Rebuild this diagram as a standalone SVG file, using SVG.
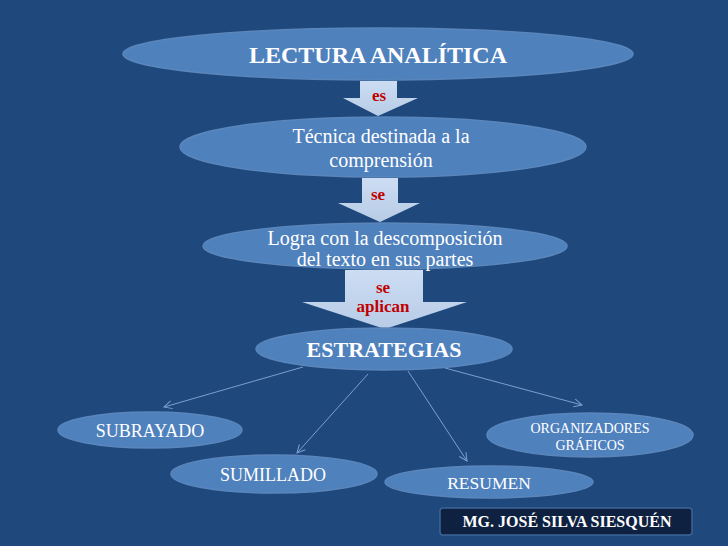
<svg xmlns="http://www.w3.org/2000/svg" width="728" height="546" viewBox="0 0 728 546">
<defs>
<style>
.node{fill:#4F81BD;stroke:#5A86BC;stroke-width:1.5}
.t{font-family:'Liberation Serif','DejaVu Serif',serif;fill:#FFFFFF;text-anchor:middle}
.b{font-weight:bold}
.lbl{font-family:'Liberation Serif','DejaVu Serif',serif;fill:#C00000;font-weight:bold;text-anchor:middle;font-size:17px}
.con{stroke:#7A9FD0;stroke-width:1;fill:none}
</style>
<marker id="ah" viewBox="0 0 10 10" refX="9" refY="5" markerWidth="10" markerHeight="10" orient="auto" markerUnits="userSpaceOnUse">
<path d="M1,1 L9,5 L1,9" fill="none" stroke="#7A9FD0" stroke-width="1"/>
</marker>
<linearGradient id="ag" x1="0" y1="0" x2="0" y2="1">
<stop offset="0" stop-color="#CCDDF3"/>
<stop offset="1" stop-color="#B8CCE6"/>
</linearGradient>
</defs>
<rect x="0" y="0" width="728" height="546" fill="#1F497D"/>

<g id="arrows">
<path fill="url(#ag)" d="M360,81 L397,81 L397,98 L418,98 L378,116 L343,98 L360,98 Z"/>
<path fill="url(#ag)" d="M362,178 L398,178 L398,203 L420,203 L380,222 L338,203 L362,203 Z"/>
<path fill="url(#ag)" d="M345,270 L423,270 L423,302 L467,302 L385,329 L302,302 L345,302 Z"/>
</g>

<g id="connectors">
<line class="con" x1="303" y1="367" x2="164" y2="407" marker-end="url(#ah)"/>
<line class="con" x1="368" y1="374" x2="297" y2="453" marker-end="url(#ah)"/>
<line class="con" x1="408" y1="371" x2="467" y2="461" marker-end="url(#ah)"/>
<line class="con" x1="445" y1="368" x2="582" y2="405" marker-end="url(#ah)"/>
</g>

<g id="n-lectura">
<ellipse class="node" cx="378" cy="54" rx="255" ry="26"/>
<text class="t b" x="378" y="63" font-size="24">LECTURA ANALÍTICA</text>
</g>
<g id="l-es"><text class="lbl" x="379" y="101">es</text></g>

<g id="n-tecnica">
<ellipse class="node" cx="383" cy="147" rx="203" ry="30"/>
<text class="t" x="381" y="143" font-size="20">Técnica destinada a la</text>
<text class="t" x="381" y="167" font-size="20">comprensión</text>
</g>
<g id="l-se"><text class="lbl" x="378" y="200">se</text></g>

<g id="n-logra">
<ellipse class="node" cx="385" cy="246" rx="182" ry="23"/>
<text class="t" x="385" y="245" font-size="20">Logra con la descomposición</text>
<text class="t" x="385" y="266" font-size="20">del texto en sus partes</text>
</g>
<g id="l-aplican">
<text class="lbl" x="383" y="293">se</text>
<text class="lbl" x="383" y="312">aplican</text>
</g>

<g id="n-estrategias">
<ellipse class="node" cx="384" cy="349" rx="128" ry="21"/>
<text class="t b" x="384" y="357" font-size="22">ESTRATEGIAS</text>
</g>

<g id="n-subrayado">
<ellipse class="node" cx="150" cy="430" rx="92" ry="18"/>
<text class="t" x="150" y="437" font-size="18">SUBRAYADO</text>
</g>

<g id="n-sumillado">
<ellipse class="node" cx="274" cy="474" rx="103" ry="19"/>
<text class="t" x="273" y="481" font-size="18">SUMILLADO</text>
</g>

<g id="n-resumen">
<ellipse class="node" cx="489" cy="482" rx="104" ry="16"/>
<text class="t" x="489" y="489" font-size="17.5">RESUMEN</text>
</g>

<g id="n-organizadores">
<ellipse class="node" cx="590" cy="435" rx="103" ry="22"/>
<text class="t" x="590" y="433" font-size="14">ORGANIZADORES</text>
<text class="t" x="590" y="450" font-size="14">GRÁFICOS</text>
</g>

<g id="author">
<rect x="440" y="508" width="252" height="27" rx="3" fill="#0F2140" stroke="#3D6496" stroke-width="1.5"/>
<text class="t b" x="567" y="527" font-size="16">MG. JOSÉ SILVA SIESQUÉN</text>
</g>
</svg>
